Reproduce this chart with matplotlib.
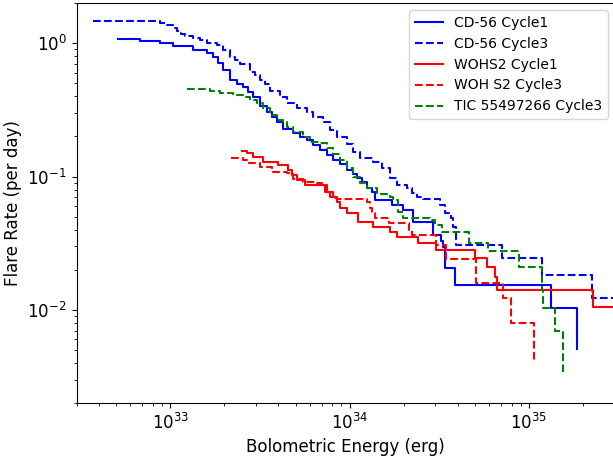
import numpy as np
import matplotlib
matplotlib.use('Agg')
import matplotlib.pyplot as plt

# energies in units of 1e33 erg, rates in flares per day (cumulative)
cd56_c1_e = np.array([0.511, 0.678, 0.876, 1.035, 1.339, 1.602, 1.730, 1.845, 1.967, 2.153,
                      2.355, 2.544, 2.713, 2.893, 3.164, 3.462, 3.692, 3.937, 4.252, 4.834,
                      5.289, 5.786, 6.250, 6.837, 7.482, 8.08, 8.84, 9.67, 10.45, 11.00,
                      11.73, 12.51, 13.34, 13.86, 17.24, 19.86, 22.57, 29.18, 32.34, 33.18,
                      34.05, 38.72, 132.9, 185.5]) * 1e33
cd56_c1_r = np.array([1.072, 1.041, 1.010, 0.954, 0.883, 0.846, 0.789, 0.711, 0.630, 0.530,
                      0.495, 0.470, 0.431, 0.396, 0.3385, 0.305, 0.280, 0.2568, 0.2276, 0.2124,
                      0.1982, 0.1882, 0.1726, 0.1583, 0.1452, 0.1332, 0.1243, 0.1121, 0.1046, 0.0976,
                      0.0911, 0.0821, 0.0766, 0.0667, 0.0612, 0.0562, 0.0460, 0.0365, 0.0329, 0.0296,
                      0.0206, 0.01538, 0.01033, 0.00509])

cd56_c3_e = np.array([0.3706, 0.8762, 0.9585, 1.0353, 1.0899, 1.1474, 1.2079, 1.3386, 1.4641, 1.6021,
                      1.8217, 1.9677, 2.1528, 2.2953, 2.4469, 2.7830, 2.9678, 3.1645, 3.3744, 3.5982,
                      4.0904, 4.4757, 5.0882, 5.7856, 6.250, 7.1056, 7.7716, 8.5055, 9.672, 10.447,
                      11.429, 13.504, 15.158, 16.803, 18.384, 20.898, 22.284, 23.763, 25.668, 31.93,
                      34.05, 36.78, 37.74, 39.22, 70.79, 118.3, 224.8, 400.0]) * 1e33
cd56_c3_r = np.array([1.470, 1.420, 1.360, 1.303, 1.226, 1.174, 1.134, 1.096, 1.059, 1.005,
                      0.971, 0.891, 0.793, 0.749, 0.699, 0.612, 0.578, 0.530, 0.495, 0.4386,
                      0.3975, 0.3566, 0.3271, 0.3067, 0.2814, 0.2581, 0.2237, 0.1982, 0.1756, 0.1530,
                      0.1379, 0.1287, 0.1160, 0.0976, 0.0865, 0.0821, 0.0753, 0.0703, 0.0679, 0.0612,
                      0.0533, 0.0489, 0.0419, 0.0307, 0.0245, 0.01827, 0.01228, 0.00614])

wohs2_c1_e = np.array([2.527, 2.678, 2.893, 3.289, 3.598, 3.987, 4.533, 4.773, 5.088, 5.640,
                       7.291, 7.772, 8.506, 8.841, 9.672, 11.14, 13.50, 16.80, 18.38, 24.07,
                       30.33, 50.05, 58.39, 64.70, 66.38, 227.8, 400.0, 600.0]) * 1e33
wohs2_c1_r = np.array([0.1556, 0.1503, 0.1415, 0.1294, 0.1276, 0.1222, 0.1121, 0.1028, 0.0943, 0.0865,
                       0.0770, 0.0707, 0.0648, 0.0578, 0.0530, 0.0459, 0.0421, 0.0386, 0.0354, 0.0316,
                       0.0281, 0.0247, 0.0211, 0.01775, 0.01403, 0.01057, 0.00706, 0.00353])

wohs2_c3_e = np.array([2.167, 2.544, 2.713, 3.164, 3.692, 4.476, 4.834, 5.497, 6.579, 7.016,
                       7.482, 8.08, 8.506, 12.51, 12.99, 13.33, 13.86, 16.59, 21.44, 22.28,
                       30.33, 34.49, 50.70, 71.73, 79.51, 106.8]) * 1e33
wohs2_c3_r = np.array([0.1367, 0.1332, 0.1258, 0.1187, 0.1092, 0.1064, 0.0959, 0.0916, 0.0891, 0.0865,
                       0.0770, 0.0688, 0.0676, 0.0648, 0.0578, 0.0530, 0.0487, 0.0446, 0.0397, 0.0365,
                       0.0307, 0.0243, 0.0160, 0.01222, 0.00797, 0.00402])

tic_c3_e = np.array([1.247, 1.464, 1.665, 1.893, 2.237, 2.544, 2.783, 3.045, 3.289, 3.598,
                     3.937, 4.252, 4.476, 4.834, 5.497, 6.014, 6.837, 7.482, 8.08, 8.84,
                     9.672, 10.45, 11.43, 12.51, 14.21, 16.80, 17.46, 18.62, 19.86, 28.08,
                     29.95, 32.76, 46.35, 59.14, 88.08, 118.3, 119.9, 139.8, 154.0]) * 1e33
tic_c3_r = np.array([0.4541, 0.4502, 0.4386, 0.4238, 0.4094, 0.3956, 0.3756, 0.3535, 0.3254, 0.2898,
                     0.2658, 0.2581, 0.2367, 0.2172, 0.1992, 0.1827, 0.1777, 0.1631, 0.1477, 0.1332,
                     0.1160, 0.0993, 0.0895, 0.0821, 0.0740, 0.0703, 0.0667, 0.0543, 0.0493, 0.0472,
                     0.0433, 0.0386, 0.0315, 0.0278, 0.0209, 0.0141, 0.01028, 0.00695, 0.00344])

fig = plt.figure(figsize=(6.13, 4.58), dpi=100)
ax = fig.add_axes([76.5 / 613, 0.1199, 538 / 613, 0.8732])

ax.step(cd56_c1_e, cd56_c1_r, where='post', color='blue', linestyle='-', label='CD-56 Cycle1')
ax.step(cd56_c3_e, cd56_c3_r, where='post', color='blue', linestyle='--', label='CD-56 Cycle3')
ax.step(wohs2_c1_e, wohs2_c1_r, where='post', color='red', linestyle='-', label='WOHS2 Cycle1')
ax.step(wohs2_c3_e, wohs2_c3_r, where='post', color='red', linestyle='--', label='WOH S2 Cycle3')
ax.step(tic_c3_e, tic_c3_r, where='post', color='green', linestyle='--', label='TIC 55497266 Cycle3')

ax.set_xscale('log')
ax.set_yscale('log')
ax.set_xlim(3e32, 3e35)
ax.set_ylim(2e-3, 2)
ax.set_xlabel('Bolometric Energy (erg)', fontsize=12)
ax.set_ylabel('Flare Rate (per day)', fontsize=12)
ax.tick_params(axis='both', which='major', labelsize=12)
ax.legend(loc='upper right', fontsize=10)

fig.savefig('out.png', dpi=100)
